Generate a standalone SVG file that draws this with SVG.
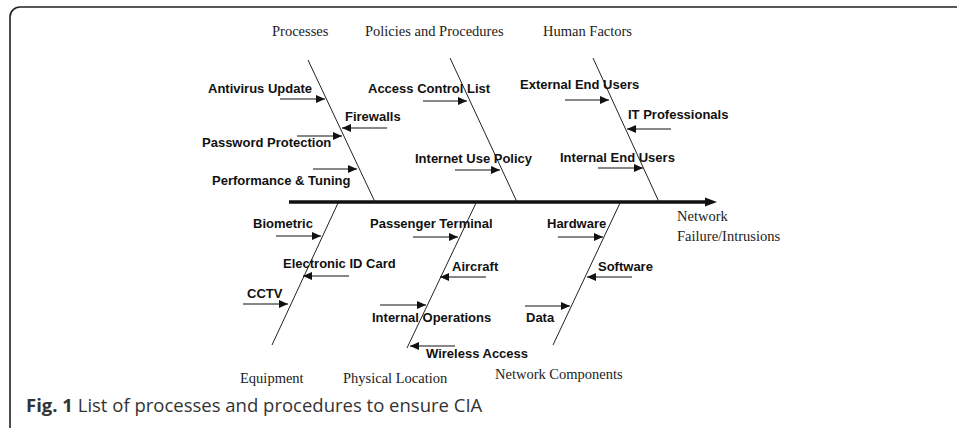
<svg xmlns="http://www.w3.org/2000/svg" width="957" height="428" viewBox="0 0 957 428">
<style>
.cat{font-family:"Liberation Serif","Times New Roman",serif;font-size:14.5px;fill:#222}
.cause{font-family:"Liberation Sans",Arial,sans-serif;font-size:13px;font-weight:bold;fill:#111}
.bone{stroke:#222;stroke-width:1;fill:none}
.arr{stroke:#111;stroke-width:1.2;fill:none;marker-end:url(#ah)}
.cap{font-family:"Open Sans","Noto Sans",sans-serif;font-size:18.5px;fill:#333}
</style>
<defs>
<marker id="ah" markerUnits="userSpaceOnUse" markerWidth="10" markerHeight="8" refX="9" refY="4" orient="auto">
<path d="M0,0 L9,4 L0,8 z" fill="#111"/>
</marker>
</defs>
<rect id="frame" x="10" y="7" width="970" height="450" rx="10" ry="10" fill="none" stroke="#222" stroke-width="1.6"/>

<g id="connectors">
<line x1="289" y1="202" x2="708" y2="202" stroke="#111" stroke-width="3.5"/>
<polygon points="705,197.5 717,202 705,206.5" fill="#111"/>
<line class="bone" x1="308" y1="60" x2="375" y2="202"/>
<line class="bone" x1="450" y1="58" x2="517" y2="202"/>
<line class="bone" x1="593" y1="58" x2="659" y2="202"/>
<line class="bone" x1="338" y1="203" x2="272" y2="345"/>
<line class="bone" x1="476" y1="203" x2="407" y2="348"/>
<line class="bone" x1="620" y1="203" x2="553" y2="345"/>
<line class="arr" x1="280" y1="99" x2="325" y2="99"/>
<line class="arr" x1="387" y1="128" x2="342" y2="128"/>
<line class="arr" x1="297" y1="136" x2="342" y2="136"/>
<line class="arr" x1="313" y1="169" x2="357" y2="169"/>
<line class="arr" x1="423" y1="101" x2="467" y2="101"/>
<line class="arr" x1="455" y1="170" x2="500" y2="170"/>
<line class="arr" x1="565" y1="100" x2="609" y2="100"/>
<line class="arr" x1="671" y1="129" x2="627" y2="129"/>
<line class="arr" x1="598" y1="168" x2="643" y2="168"/>
<line class="arr" x1="276" y1="236" x2="321" y2="236"/>
<line class="arr" x1="349" y1="276" x2="303" y2="276"/>
<line class="arr" x1="243" y1="304" x2="288" y2="304"/>
<line class="arr" x1="413" y1="237" x2="458" y2="237"/>
<line class="arr" x1="486" y1="277" x2="440" y2="277"/>
<line class="arr" x1="380" y1="305" x2="426" y2="305"/>
<line class="arr" x1="455" y1="346" x2="410" y2="346"/>
<line class="arr" x1="558" y1="237" x2="603" y2="237"/>
<line class="arr" x1="632" y1="277" x2="587" y2="277"/>
<line class="arr" x1="525" y1="306" x2="570" y2="306"/>
</g>

<g id="cat-processes"><text class="cat" x="272" y="36">Processes</text></g>
<g id="cat-policies"><text class="cat" x="365" y="36">Policies and Procedures</text></g>
<g id="cat-human"><text class="cat" x="543" y="36">Human Factors</text></g>
<g id="cat-equipment"><text class="cat" x="240" y="383">Equipment</text></g>
<g id="cat-physical"><text class="cat" x="343" y="383">Physical Location</text></g>
<g id="cat-network"><text class="cat" x="495" y="379">Network Components</text></g>
<g id="effect"><text class="cat" x="677" y="221">Network</text><text class="cat" x="677" y="241">Failure/Intrusions</text></g>

<g id="c-antivirus"><text class="cause" x="208" y="93">Antivirus Update</text></g>
<g id="c-firewalls"><text class="cause" x="345" y="121">Firewalls</text></g>
<g id="c-password"><text class="cause" x="202" y="147">Password Protection</text></g>
<g id="c-performance"><text class="cause" x="212" y="185">Performance &amp; Tuning</text></g>
<g id="c-acl"><text class="cause" x="368" y="93">Access Control List</text></g>
<g id="c-internet"><text class="cause" x="415" y="163">Internet Use Policy</text></g>
<g id="c-external"><text class="cause" x="520" y="89">External End Users</text></g>
<g id="c-itpro"><text class="cause" x="628" y="119">IT Professionals</text></g>
<g id="c-internal"><text class="cause" x="560" y="162">Internal End Users</text></g>
<g id="c-biometric"><text class="cause" x="253" y="228">Biometric</text></g>
<g id="c-eid"><text class="cause" x="283" y="268">Electronic ID Card</text></g>
<g id="c-cctv"><text class="cause" x="247" y="298">CCTV</text></g>
<g id="c-passenger"><text class="cause" x="370" y="228">Passenger Terminal</text></g>
<g id="c-aircraft"><text class="cause" x="452" y="271">Aircraft</text></g>
<g id="c-intops"><text class="cause" x="372" y="322">Internal Operations</text></g>
<g id="c-wireless"><text class="cause" x="426" y="358">Wireless Access</text></g>
<g id="c-hardware"><text class="cause" x="547" y="228">Hardware</text></g>
<g id="c-software"><text class="cause" x="598" y="271">Software</text></g>
<g id="c-data"><text class="cause" x="526" y="322">Data</text></g>

<g id="caption"><text class="cap" x="26" y="412"><tspan font-weight="bold">Fig. 1</tspan> List of processes and procedures to ensure CIA</text></g>
</svg>
